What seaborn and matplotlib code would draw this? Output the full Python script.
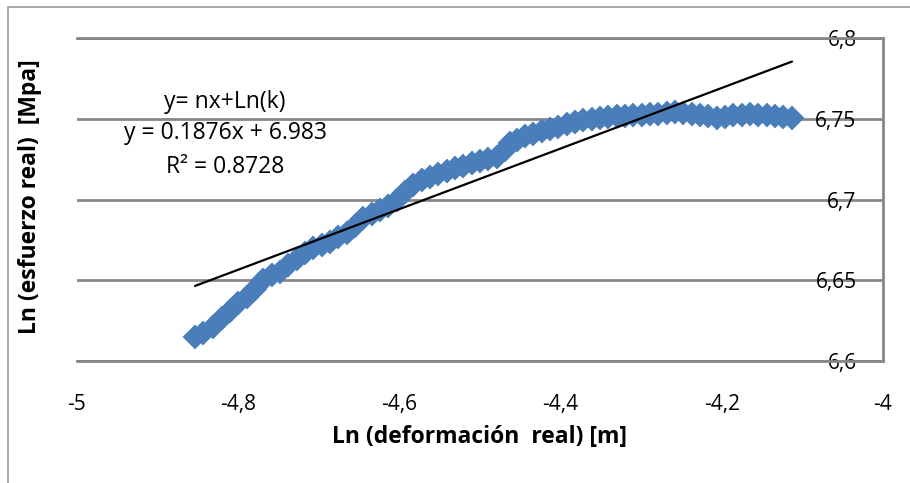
import numpy as np
import pandas as pd
import matplotlib
matplotlib.use('Agg')
import matplotlib.pyplot as plt
import seaborn as sns
from matplotlib.patches import Rectangle

# Ln(true strain) vs Ln(true stress)
ln_def = [-4.8536, -4.8437, -4.8313, -4.8201, -4.8102, -4.8002, -4.7891, -4.7792,
          -4.7692, -4.7581, -4.7481, -4.7382, -4.7270, -4.7171, -4.7072, -4.6960,
          -4.6861, -4.6762, -4.6650, -4.6551, -4.6452, -4.6340, -4.6241, -4.6141,
          -4.6030, -4.5931, -4.5831, -4.5720, -4.5620, -4.5521, -4.5409, -4.5310,
          -4.5211, -4.5099, -4.5000, -4.4901, -4.4789, -4.4690, -4.4628, -4.4541,
          -4.4442, -4.4342, -4.4231, -4.4131, -4.4032, -4.3921, -4.3821, -4.3722,
          -4.3610, -4.3511, -4.3412, -4.3300, -4.3201, -4.3102, -4.2990, -4.2891,
          -4.2792, -4.2680, -4.2581, -4.2481, -4.2370, -4.2270, -4.2171, -4.2060,
          -4.1960, -4.1861, -4.1749, -4.1650, -4.1551, -4.1439, -4.1340, -4.1241,
          -4.1129]
ln_esf = [6.6149, 6.6173, 6.6211, 6.6266, 6.6310, 6.6359, 6.6396, 6.6446,
          6.6502, 6.6533, 6.6551, 6.6594, 6.6632, 6.6669, 6.6700, 6.6718,
          6.6737, 6.6768, 6.6793, 6.6836, 6.6885, 6.6910, 6.6935, 6.6960,
          6.6997, 6.7046, 6.7090, 6.7121, 6.7139, 6.7158, 6.7176, 6.7195,
          6.7207, 6.7226, 6.7238, 6.7251, 6.7263, 6.7307, 6.7350, 6.7368,
          6.7393, 6.7406, 6.7424, 6.7437, 6.7449, 6.7467, 6.7480, 6.7492,
          6.7498, 6.7505, 6.7511, 6.7517, 6.7517, 6.7523, 6.7523, 6.7529,
          6.7529, 6.7536, 6.7542, 6.7536, 6.7529, 6.7523, 6.7517, 6.7505,
          6.7511, 6.7523, 6.7523, 6.7529, 6.7523, 6.7523, 6.7517, 6.7511,
          6.7505]

# trendline as drawn in the chart
trend_slope = 0.1876
trend_icpt = 7.557

eq_lines = ['y= nx+Ln(k)', 'y = 0.1876x + 6.983', 'R² = 0.8728']

x_ticks = [-5, -4.8, -4.6, -4.4, -4.2, -4]
x_labels = ['-5', '-4,8', '-4,6', '-4,4', '-4,2', '-4']
y_ticks = [6.6, 6.65, 6.7, 6.75, 6.8]
y_labels = ['6,6', '6,65', '6,7', '6,75', '6,8']

sns.set_style('white')
plt.rcParams['font.family'] = ['Open Sans', 'DejaVu Sans']

GRID = '#878787'
BLUE = '#4a7ebb'

fig = plt.figure(figsize=(9.1, 4.83), dpi=100)
ax = fig.add_axes([0.0846, 0.2526, 0.8857, 0.6687])

df = pd.DataFrame({'x': ln_def, 'y': ln_esf})
sns.scatterplot(data=df, x='x', y='y', marker='D', s=160, color=BLUE,
                edgecolor='none', linewidth=0, ax=ax, zorder=3, legend=False)

xl = np.array([min(ln_def), max(ln_def)])
sns.lineplot(x=xl, y=trend_slope * xl + trend_icpt, color='black', lw=1.6,
             ax=ax, zorder=4)

ax.set_xlim(-5, -4)
ax.set_ylim(6.6, 6.8)
ax.set_xticks(x_ticks, labels=x_labels)
ax.set_yticks(y_ticks, labels=y_labels)
ax.yaxis.tick_right()
ax.tick_params(axis='y', length=0, pad=-19, labelsize=15, labelcolor='black')
ax.tick_params(axis='x', length=0, pad=24, labelsize=15, labelcolor='black')
for t in ax.yaxis.get_major_ticks():
    t.label2.set_horizontalalignment('right')

ax.yaxis.grid(True, color=GRID, lw=2)
ax.xaxis.grid(False)
for side in ['top', 'bottom', 'right']:
    ax.spines[side].set_color(GRID)
    ax.spines[side].set_linewidth(2)
ax.spines['left'].set_visible(False)

ax.set_xlabel('Ln (deformación  real) [m]', fontsize=16.5, fontweight='bold',
              va='center', color='black')
ax.xaxis.set_label_coords(0.5, -0.235)
ax.set_ylabel('Ln (esfuerzo real)  [Mpa]', fontsize=16.5, fontweight='bold',
              va='center', color='black')
ax.yaxis.set_label_coords(-0.058, 0.508)

for txt, ypx in zip(eq_lines, [102, 133, 167]):
    fig.text(225 / 910, 1 - ypx / 483, txt, fontsize=16.5, ha='center',
             va='center', color='black')

fig.patches.append(Rectangle((8 / 910, -0.1), 1.2, 1.1 - 7 / 483,
                             transform=fig.transFigure, fill=False,
                             edgecolor='#9a9a9a', lw=1.2))

fig.savefig('out.png', dpi=100)
